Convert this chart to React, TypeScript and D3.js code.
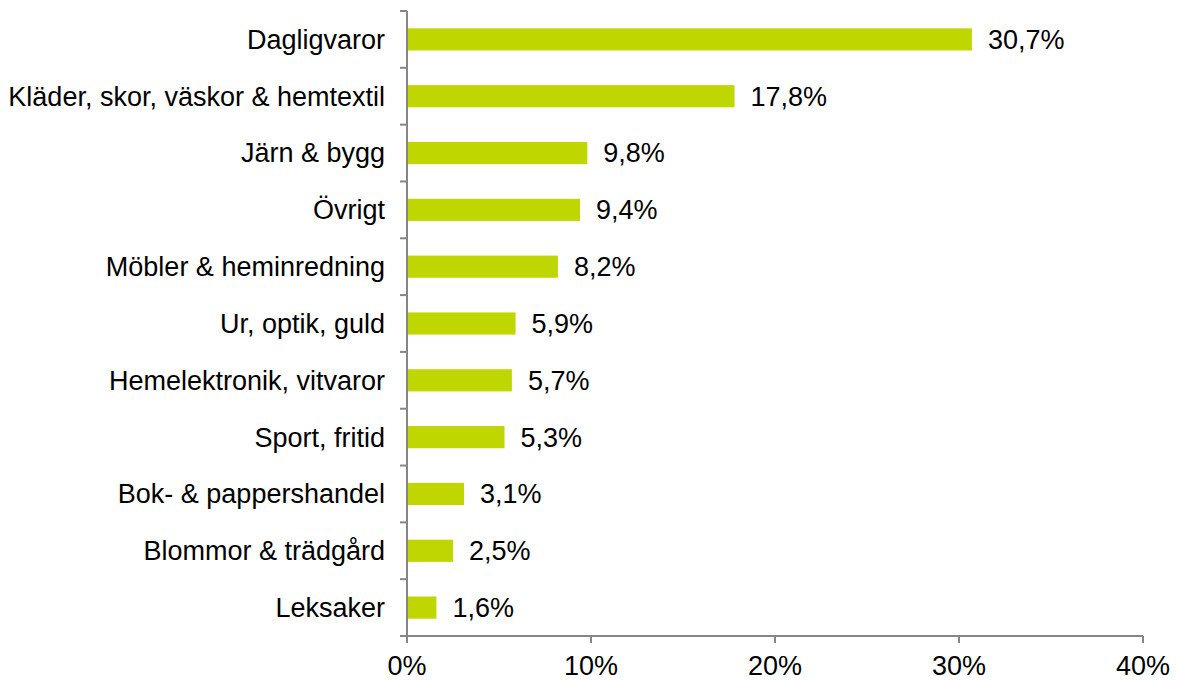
import React from 'react';
import * as d3 from 'd3';

const categories = [
  'Dagligvaror',
  'Kläder, skor, väskor & hemtextil',
  'Järn & bygg',
  'Övrigt',
  'Möbler & heminredning',
  'Ur, optik, guld',
  'Hemelektronik, vitvaror',
  'Sport, fritid',
  'Bok- & pappershandel',
  'Blommor & trädgård',
  'Leksaker',
];
const values = [30.7, 17.8, 9.8, 9.4, 8.2, 5.9, 5.7, 5.3, 3.1, 2.5, 1.6];
const xTicks = [0, 10, 20, 30, 40];

const W = 1178, H = 680;
const left = 407, right = 1143, top = 11, bottom = 636;
const font = 'Liberation Sans, Arial, sans-serif';
const axisColor = '#868686';
const fs = 27;

export default function App() {
  const x = d3.scaleLinear().domain([0, 40]).range([left, right]);
  const y = d3.scaleBand().domain(categories).range([top, bottom]).paddingInner(0.61).paddingOuter(0.305);
  const band = d3.scaleBand().domain(categories).range([top, bottom]);
  const fmt = (v: number) => v.toFixed(1).replace('.', ',') + '%';

  return (
    <svg width={W} height={H} style={{ position: 'absolute', left: 0, top: 0 }} fontFamily={font}>
      <rect width={W} height={H} fill="#fff" />
      {categories.map((c, i) => (
        <g key={c}>
          <rect x={x(0)} y={y(c)} width={x(values[i]) - x(0)} height={y.bandwidth()} fill="#bfd600" />
          <text x={x(values[i]) + 16} y={y(c)! + y.bandwidth() / 2} dy="0.35em" fontSize={fs} fill="#000">
            {fmt(values[i])}
          </text>
          <text x={385} y={band(c)! + band.bandwidth() / 2} dy="0.35em" fontSize={fs} textAnchor="end" fill="#000">
            {c}
          </text>
        </g>
      ))}
      {/* y axis */}
      <line x1={left} x2={left} y1={top} y2={bottom} stroke={axisColor} strokeWidth={2} />
      {d3.range(categories.length + 1).map(i => {
        const yy = top + i * band.step();
        return <line key={i} x1={left - 7} x2={left} y1={yy} y2={yy} stroke={axisColor} strokeWidth={2} />;
      })}
      {/* x axis */}
      <line x1={left} x2={right} y1={bottom} y2={bottom} stroke={axisColor} strokeWidth={2} />
      {xTicks.map(t => (
        <g key={t}>
          <line x1={x(t)} x2={x(t)} y1={bottom} y2={bottom + 7} stroke={axisColor} strokeWidth={2} />
          <text x={x(t)} y={666} dy="0.35em" fontSize={fs} textAnchor="middle" fill="#000">
            {t + '%'}
          </text>
        </g>
      ))}
    </svg>
  );
}
